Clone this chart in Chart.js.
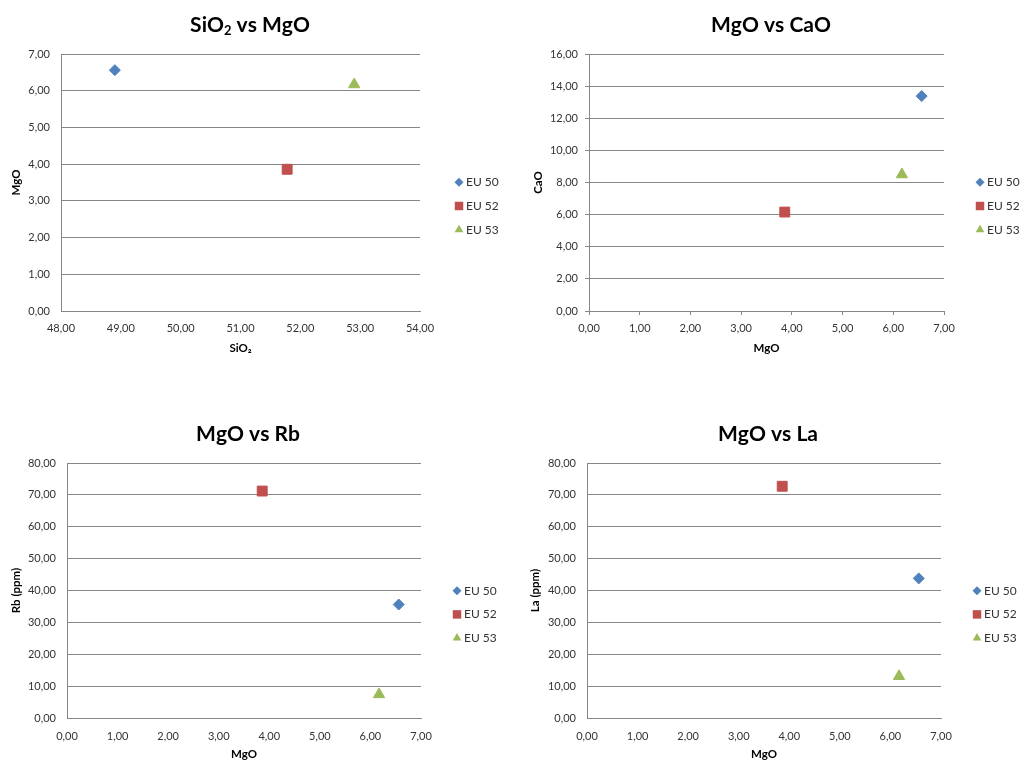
<!DOCTYPE html>
<html>
<head>
<meta charset="utf-8">
<script src="https://cdn.jsdelivr.net/npm/chart.js@4.4.0/dist/chart.umd.min.js"></script>
<style>
  html, body { margin: 0; padding: 0; background: #fff; }
  canvas { position: absolute; }
</style>
</head>
<body>
<canvas id="c1" width="510" height="381" style="left:0;top:0"></canvas>
<canvas id="c2" width="511" height="381" style="left:510px;top:0"></canvas>
<canvas id="c3" width="510" height="381" style="left:0;top:381px"></canvas>
<canvas id="c4" width="511" height="381" style="left:510px;top:381px"></canvas>
<script>
// samples and their analyses
const samples = ['EU 50', 'EU 52', 'EU 53'];
const sio2 = [48.90, 51.78, 52.90];
const mgo = [6.56, 3.86, 6.17];
const cao = [13.38, 6.16, 8.5];
const rb = [35.6, 71.2, 7.4];
const la = [43.8, 72.7, 13.1];

// axis ranges: [min, max, step]
const sio2Axis = [48, 54, 1];
const mgoAxis = [0, 7, 1];
const caoAxis = [0, 16, 2];
const ppmAxis = [0, 80, 10];

const colors = ['#4F81BD', '#C0504D', '#9BBB59'];
const markers = ['rectRot', 'rect', 'triangle'];
const markerSize = [5.5, 7, 6.5];
const legendSize = [4.5, 6, 5];
const gridColor = '#878787';

Chart.defaults.font.family = 'Lato, "DejaVu Sans", sans-serif';

const fmt = v => v.toFixed(2).replace('.', ',');

// title with real subscripts + excel-like legend on the right
const excelLook = {
    id: 'excelLook',
    afterDraw(chart, args, opts) {
        const ctx = chart.ctx;
        ctx.save();

        const subs = '₀₁₂₃₄₅₆₇₈₉';
        const size = 21;
        const parts = [...opts.title].map(ch => {
            const k = subs.indexOf(ch);
            return k >= 0 ? { t: String(k), sub: true } : { t: ch, sub: false };
        });
        const fontFor = p => 'bold ' + (p.sub ? Math.round(size * 0.62) : size) + 'px Lato, "DejaVu Sans", sans-serif';
        let total = 0;
        parts.forEach(p => { ctx.font = fontFor(p); p.w = ctx.measureText(p.t).width; total += p.w; });
        let x = opts.titleX - total / 2;
        ctx.fillStyle = '#000';
        ctx.textBaseline = 'alphabetic';
        ctx.textAlign = 'left';
        parts.forEach(p => {
            ctx.font = fontFor(p);
            ctx.fillText(p.t, x, opts.titleY + (p.sub ? size * 0.18 : 0));
            x += p.w;
        });

        chart.data.datasets.forEach((ds, i) => {
            const y = opts.legendY + i * opts.legendGap;
            ctx.fillStyle = ds.backgroundColor;
            ctx.strokeStyle = ds.borderColor;
            Chart.helpers.drawPoint(ctx, { pointStyle: ds.pointStyle, radius: legendSize[i], rotation: 0, borderWidth: 0 }, opts.legendX, y);
            ctx.fillStyle = '#333';
            ctx.font = '12px Lato, "DejaVu Sans", sans-serif';
            ctx.textBaseline = 'middle';
            ctx.fillText(ds.label, opts.legendX + 7, y);
        });
        ctx.restore();
    }
};

function makeChart(id, c) {
    const tickFont = { size: 11 };
    const titleFont = { size: 11.5, weight: 'bold' };
    return new Chart(document.getElementById(id), {
        type: 'scatter',
        data: {
            datasets: samples.map((name, i) => ({
                label: name,
                data: [{ x: c.xs[i], y: c.ys[i] }],
                pointStyle: markers[i],
                pointRadius: markerSize[i],
                pointHoverRadius: markerSize[i],
                backgroundColor: colors[i],
                borderColor: colors[i],
                borderWidth: 1
            }))
        },
        options: {
            responsive: false,
            animation: false,
            layout: { padding: { top: c.top, right: c.right, bottom: c.bottom, left: 0 } },
            plugins: {
                legend: { display: false },
                tooltip: { enabled: false },
                excelLook: { title: c.title, titleX: c.titleX, titleY: c.titleY, legendX: c.legendX, legendY: c.legendY, legendGap: 23.7 }
            },
            scales: {
                x: {
                    type: 'linear',
                    min: c.xAxis[0], max: c.xAxis[1],
                    ticks: { stepSize: c.xAxis[2], autoSkip: false, maxRotation: 0, padding: c.ticks ? 7 : c.xTickPad, color: '#333', font: tickFont, callback: fmt },
                    grid: { display: c.ticks, drawOnChartArea: false, drawTicks: c.ticks, tickLength: 4, color: gridColor },
                    border: { color: gridColor },
                    title: { display: true, text: c.xTitle, color: '#000', font: titleFont, padding: { top: 0, bottom: c.xTitlePad } },
                    afterFit: s => { s.height = c.xHeight; }
                },
                y: {
                    type: 'linear',
                    min: c.yAxis[0], max: c.yAxis[1],
                    ticks: { stepSize: c.yAxis[2], autoSkip: false, padding: c.ticks ? 7 : 11, color: '#333', font: tickFont, callback: fmt },
                    grid: { color: gridColor, drawTicks: c.ticks, tickLength: 4 },
                    border: { color: gridColor },
                    title: { display: true, text: c.yTitle, color: '#000', font: titleFont, padding: { top: c.yTitlePad, bottom: 0 } },
                    afterFit: s => { s.width = c.yWidth; }
                }
            }
        },
        plugins: [excelLook]
    });
}

makeChart('c1', {
    title: 'SiO₂ vs MgO', titleX: 250, titleY: 31.5,
    xs: sio2, ys: mgo, xAxis: sio2Axis, yAxis: mgoAxis,
    xTitle: 'SiO₂', yTitle: 'MgO',
    top: 54, right: 90, bottom: 22, xHeight: 48, xTitlePad: 4, xTickPad: 11,
    yWidth: 61, yTitlePad: 9.5, ticks: false,
    legendX: 459, legendY: 182.3
});

makeChart('c2', {
    title: 'MgO vs CaO', titleX: 261, titleY: 31.5,
    xs: mgo, ys: cao, xAxis: mgoAxis, yAxis: caoAxis,
    xTitle: 'MgO', yTitle: 'CaO',
    top: 54, right: 77, bottom: 22, xHeight: 48, xTitlePad: 4, xTickPad: 11,
    yWidth: 79, yTitlePad: 21, ticks: true,
    legendX: 470, legendY: 182.3
});

makeChart('c3', {
    title: 'MgO vs Rb', titleX: 248, titleY: 59.7,
    xs: mgo, ys: rb, xAxis: mgoAxis, yAxis: ppmAxis,
    xTitle: 'MgO', yTitle: 'Rb (ppm)',
    top: 82, right: 89, bottom: 1, xHeight: 43, xTitlePad: 0, xTickPad: 12,
    yWidth: 67, yTitlePad: 9.5, ticks: false,
    legendX: 457, legendY: 209.7
});

makeChart('c4', {
    title: 'MgO vs La', titleX: 258, titleY: 59.7,
    xs: mgo, ys: la, xAxis: mgoAxis, yAxis: ppmAxis,
    xTitle: 'MgO', yTitle: 'La (ppm)',
    top: 82, right: 80, bottom: 1, xHeight: 43, xTitlePad: 0, xTickPad: 12,
    yWidth: 77, yTitlePad: 18.5, ticks: false,
    legendX: 467, legendY: 209.7
});
</script>
</body>
</html>
